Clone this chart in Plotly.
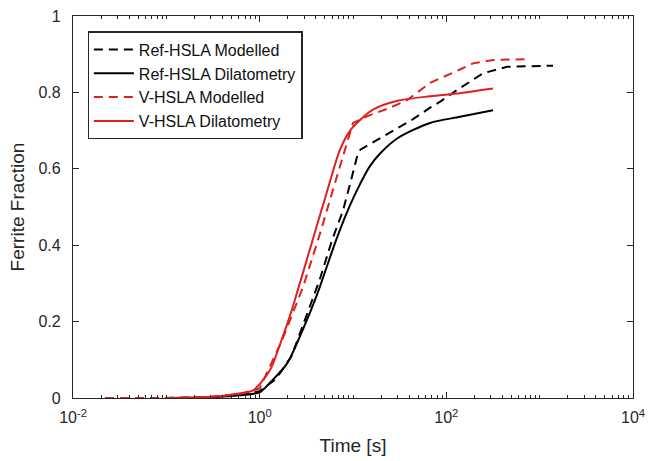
import plotly.graph_objects as go

# Ref-HSLA Modelled (black dashed)
ref_mod_t = [0.022, 0.1, 0.3, 0.6, 1.0, 1.5, 2.2, 3.0, 4.4, 6.0, 7.8, 9.3, 11, 12, 19.5, 30, 44, 67, 85, 130, 247, 447, 1390]
ref_mod_y = [0, 0, 0.002, 0.008, 0.018, 0.05, 0.11, 0.20, 0.31, 0.415, 0.49, 0.56, 0.63, 0.65, 0.68, 0.705, 0.73, 0.76, 0.775, 0.806, 0.85, 0.867, 0.87]

# Ref-HSLA Dilatometry (black solid)
ref_dil_t = [0.1, 0.3, 0.6, 1.0, 1.29, 1.96, 2.91, 4.11, 5.26, 6.74, 9.3, 11.9, 15, 19.5, 30, 67, 140, 316]
ref_dil_y = [0, 0.002, 0.007, 0.015, 0.04, 0.09, 0.18, 0.27, 0.345, 0.42, 0.505, 0.56, 0.605, 0.64, 0.68, 0.72, 0.736, 0.753]

# V-HSLA Modelled (red dashed)
v_mod_t = [0.022, 0.1, 0.3, 0.6, 1.0, 1.73, 2.91, 4.43, 6.1, 7.82, 10, 15, 25, 38, 67, 140, 193, 316, 731]
v_mod_y = [0, 0, 0.003, 0.01, 0.025, 0.15, 0.29, 0.43, 0.545, 0.63, 0.72, 0.74, 0.76, 0.78, 0.825, 0.86, 0.876, 0.885, 0.887]

# V-HSLA Dilatometry (red solid)
v_dil_t = [0.1, 0.3, 0.6, 0.85, 1.29, 1.65, 2.11, 2.58, 3.46, 5.26, 7.26, 9.3, 11, 16.4, 30, 67, 140, 316]
v_dil_y = [0, 0.003, 0.012, 0.02, 0.073, 0.14, 0.215, 0.285, 0.39, 0.54, 0.65, 0.70, 0.72, 0.755, 0.778, 0.79, 0.798, 0.81]

x_tickvals = [0.01, 1, 100, 10000]
x_ticktext = ["10<sup>-2</sup>", "10<sup>0</sup>", "10<sup>2</sup>", "10<sup>4</sup>"]
y_tickvals = [0, 0.2, 0.4, 0.6, 0.8, 1]
y_ticktext = ["0", "0.2", "0.4", "0.6", "0.8", "1"]

# minor ticks: every 1..9 x 10^k that is not a labelled decade
minor_vals = [m * 10.0 ** k for k in range(-2, 4) for m in range(1, 10)
              if not (m == 1 and k % 2 == 0)]

RED = "rgb(222,32,32)"
BLACK = "black"
AX = "#262626"

fig = go.Figure()
fig.add_trace(go.Scatter(x=ref_mod_t, y=ref_mod_y, mode="lines", name="Ref-HSLA Modelled",
                         line=dict(color=BLACK, width=2, dash="9px,6px")))
fig.add_trace(go.Scatter(x=ref_dil_t, y=ref_dil_y, mode="lines", name="Ref-HSLA Dilatometry",
                         line=dict(color=BLACK, width=2, shape="spline", smoothing=0.8)))
fig.add_trace(go.Scatter(x=v_mod_t, y=v_mod_y, mode="lines", name="V-HSLA Modelled",
                         line=dict(color=RED, width=2, dash="9px,6px")))
fig.add_trace(go.Scatter(x=v_dil_t, y=v_dil_y, mode="lines", name="V-HSLA Dilatometry",
                         line=dict(color=RED, width=2, shape="spline", smoothing=0.8)))

font = "Liberation Sans, Arial, Helvetica, sans-serif"
fig.update_layout(
    width=652, height=461,
    margin=dict(l=73, r=19, t=16, b=63, autoexpand=False),
    paper_bgcolor="white", plot_bgcolor="white",
    font=dict(family=font, size=16, color=AX),
    showlegend=True,
    legend=dict(x=0.026, y=0.96, xanchor="left", yanchor="top",
                bgcolor="white", bordercolor=AX, borderwidth=1.3,
                font=dict(size=16, color="#111"), tracegroupgap=0,
                itemwidth=40),
)
fig.update_xaxes(
    type="log", range=[-2, 4], automargin=False,
    tickvals=x_tickvals, ticktext=x_ticktext,
    ticks="inside", ticklen=6, tickcolor=AX, tickwidth=1,
    showline=True, linecolor=AX, linewidth=1.3, mirror="allticks",
    showgrid=False, zeroline=False,
    minor=dict(ticks="inside", ticklen=3, tickcolor=AX, tickvals=minor_vals, showgrid=False),
    title=dict(text="Time [s]", font=dict(size=19), standoff=13),
    tickfont=dict(size=16),
    ticklabelstandoff=5,
)
fig.update_yaxes(
    range=[0, 1], automargin=False,
    tickvals=y_tickvals, ticktext=y_ticktext,
    ticks="inside", ticklen=6, tickcolor=AX, tickwidth=1,
    showline=True, linecolor=AX, linewidth=1.3, mirror="allticks",
    showgrid=False, zeroline=False,
    title=dict(text="Ferrite Fraction", font=dict(size=19), standoff=8),
    tickfont=dict(size=16),
    ticklabelstandoff=8,
)

fig.write_html("out.html")
